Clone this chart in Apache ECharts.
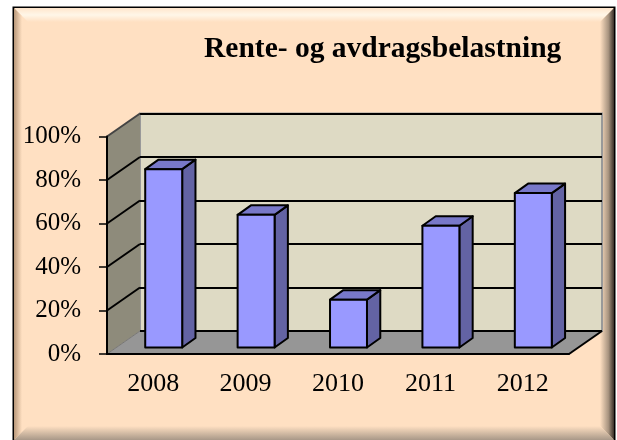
<!DOCTYPE html>
<html>
<head>
<meta charset="utf-8">
<script src="https://cdn.jsdelivr.net/npm/echarts@6/dist/echarts.min.js"></script>
<style>
  html, body { margin: 0; padding: 0; background: #fff; }
  #chart { width: 617px; height: 440px; }
</style>
</head>
<body>
<div id="chart"></div>
<script>
// data
var years = ['2008', '2009', '2010', '2011', '2012'];
var belastning = [0.82, 0.61, 0.22, 0.56, 0.71];
var yTicks = [0, 0.2, 0.4, 0.6, 0.8, 1.0];

var myChart = echarts.init(document.getElementById('chart'));

// 3D offsets (pixels)
var DX = 33, DY = -23;          // depth of the whole plot box
var FX = 10.5, FY = -6.5;       // bar front face, from front plane
var BX = 13.3, BY = -9.5;       // bar depth

var peach = '#FFE0C2';
var serif = '"Liberation Serif", "Times New Roman", serif';

function wallsItem(params, api) {
	var cs = params.coordSys;
	var x0 = cs.x, x1 = cs.x + cs.width;
	var yb = api.coord([0, 0])[1];
	var yt = api.coord([0, 1])[1];
	var children = [
		// side wall
		{type: 'polygon', shape: {points: [[x0, yb], [x0, yt], [x0 + DX, yt + DY], [x0 + DX, yb + DY]]},
		 style: {fill: '#8E8B7B'}},
		// floor
		{type: 'polygon', shape: {points: [[x0, yb], [x1, yb], [x1 + DX, yb + DY], [x0 + DX, yb + DY]]},
		 style: {fill: '#969696'}},
		{type: 'line', shape: {x1: x0 + DX, y1: yb + DY, x2: x1 + DX, y2: yb + DY},
		 style: {stroke: '#000', lineWidth: 2}},
		{type: 'line', shape: {x1: x1, y1: yb, x2: x1 + DX, y2: yb + DY},
		 style: {stroke: '#000', lineWidth: 2}},
		{type: 'line', shape: {x1: x0, y1: yb, x2: x0 + DX, y2: yb + DY},
		 style: {stroke: '#777', lineWidth: 1}}
	];
	// gridlines on the side wall
	yTicks.forEach(function (t) {
		if (t === 0) return;
		var y = api.coord([0, t])[1];
		children.push({type: 'line', shape: {x1: x0, y1: y, x2: x0 + DX, y2: y + DY},
			style: {stroke: t === 1 ? '#444' : '#000', lineWidth: 2}});
	});
	return {type: 'group', children: children};
}

function barItem(params, api) {
	var idx = api.value(0);
	var base = api.coord([idx, 0]);
	var top = api.coord([idx, api.value(1)]);
	var bw = api.size([1, 0])[0] * 0.4;
	var xl = base[0] - bw / 2 + FX, xr = base[0] + bw / 2 + FX;
	var yb = base[1] + FY, yt = top[1] + FY;
	var line = {stroke: '#000', lineWidth: 2, lineJoin: 'round'};
	return {
		type: 'group',
		children: [
			{type: 'polygon', shape: {points: [[xr, yt], [xr + BX, yt + BY], [xr + BX, yb + BY], [xr, yb]]},
			 style: echarts.util.extend({fill: '#6363A4'}, line)},
			{type: 'polygon', shape: {points: [[xl, yt], [xl + BX, yt + BY], [xr + BX, yt + BY], [xr, yt]]},
			 style: echarts.util.extend({fill: '#7878C9'}, line)},
			{type: 'rect', shape: {x: xl, y: yt, width: xr - xl, height: yb - yt},
			 style: echarts.util.extend({fill: '#9999FF'}, line)}
		]
	};
}

var option = {
	animation: false,
	title: {
		text: 'Rente- og avdragsbelastning',
		left: 199,
		top: 29,
		textStyle: {fontFamily: serif, fontSize: 29.5, fontWeight: 'bold', color: '#000'}
	},
	graphic: [
		{type: 'rect', z: -10, shape: {x: 13.5, y: 7.5, width: 601, height: 440},
		 style: {fill: peach, stroke: '#000', lineWidth: 2}},
		{type: 'polygon', z: -9, shape: {points: [[14, 8], [614, 8], [600, 22], [28, 22]]},
		 style: {fill: new echarts.graphic.LinearGradient(0, 0, 0, 1, [
			{offset: 0, color: '#FFE6CC'}, {offset: 0.5, color: '#FFF6E8'}, {offset: 1, color: peach}])}},
		{type: 'polygon', z: -9, shape: {points: [[14, 8], [22, 16], [22, 432], [14, 440]]},
		 style: {fill: new echarts.graphic.LinearGradient(0, 0, 1, 0, [
			{offset: 0, color: '#B8987A'}, {offset: 1, color: peach}])}},
		{type: 'polygon', z: -9, shape: {points: [[614, 8], [614, 440], [600, 426], [600, 22]]},
		 style: {fill: new echarts.graphic.LinearGradient(0, 0, 1, 0, [
			{offset: 0, color: peach}, {offset: 0.6, color: '#A89480'}, {offset: 1, color: '#3A3028'}])}},
		{type: 'polygon', z: -9, shape: {points: [[22, 432], [28, 426], [600, 426], [614, 440], [14, 440]]},
		 style: {fill: new echarts.graphic.LinearGradient(0, 0, 0, 1, [
			{offset: 0, color: peach}, {offset: 1, color: '#A89888'}])}}
	],
	grid: [
		{left: 107, top: 136.5, width: 462, height: 217.5},
		{left: 107 + DX, top: 136.5 + DY, width: 462, height: 217.5,
		 show: true, backgroundColor: '#DEDAC4', borderColor: '#999', borderWidth: 2}
	],
	xAxis: [
		{
			type: 'category', gridIndex: 0, data: years, z: 5,
			axisLine: {lineStyle: {color: '#000', width: 2}},
			axisTick: {length: 8, lineStyle: {color: '#000', width: 1.5}},
			axisLabel: {color: '#000', fontFamily: serif, fontSize: 26, margin: 17}
		},
		{
			type: 'category', gridIndex: 1, data: years,
			axisLine: {show: false}, axisTick: {show: false}, axisLabel: {show: false}
		}
	],
	yAxis: [
		{
			type: 'value', gridIndex: 0, min: 0, max: 1, interval: 0.2, z: 5,
			axisLine: {show: true, lineStyle: {color: '#000', width: 2}},
			axisTick: {show: true, length: 8, lineStyle: {color: '#000', width: 1.5}},
			splitLine: {show: false},
			axisLabel: {
				color: '#000', fontFamily: serif, fontSize: 25, margin: 26,
				formatter: function (v) { return Math.round(v * 100) + '%'; }
			}
		},
		{
			type: 'value', gridIndex: 1, min: 0, max: 1, interval: 0.2,
			axisLine: {show: false}, axisTick: {show: false}, axisLabel: {show: false},
			splitLine: {lineStyle: {color: '#000', width: 2}}
		}
	],
	series: [
		{
			name: 'walls', type: 'custom', xAxisIndex: 0, yAxisIndex: 0,
			z: 2, clip: false, silent: true,
			renderItem: wallsItem,
			data: [[0, 0]]
		},
		{
			name: 'Rente- og avdragsbelastning', type: 'custom', xAxisIndex: 0, yAxisIndex: 0,
			z: 3, clip: false,
			renderItem: barItem,
			data: belastning.map(function (v, i) { return [i, v]; })
		}
	]
};
myChart.setOption(option);
</script>
</body>
</html>
